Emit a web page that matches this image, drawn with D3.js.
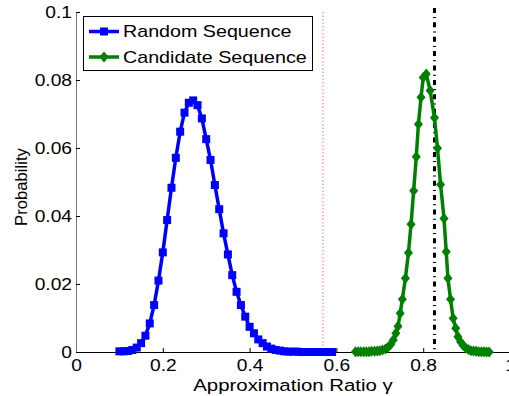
<!DOCTYPE html>
<html><head><meta charset="utf-8">
<script src="https://cdn.jsdelivr.net/npm/d3@7"></script>
<style>body{margin:0;background:#fff}svg{display:block}text{font-family:"Liberation Sans",Arial,sans-serif;fill:#000}</style>
</head><body><svg id="c" width="509" height="396"></svg>
<script>
const xTicks=[0,0.2,0.4,0.6,0.8,1];
const xTickLabels=["0","0.2","0.4","0.6","0.8","1"];
const yTicks=[0,0.02,0.04,0.06,0.08,0.1];
const yTickLabels=["0","0.02","0.04","0.06","0.08","0.1"];
const seriesNames=["Random Sequence","Candidate Sequence"];
const xLabel="Approximation Ratio γ";
const yLabel="Probability";

const randomX=[0.10,0.11,0.12,0.13,0.14,0.15,0.16,0.17,0.18,0.19,0.20,0.21,0.22,0.23,0.24,0.25,0.26,0.27,0.28,0.29,0.30,0.31,0.32,0.33,0.34,0.35,0.36,0.37,0.38,0.39,0.40,0.41,0.42,0.43,0.44,0.45,0.46,0.47,0.48,0.49,0.50,0.51,0.52,0.53,0.54,0.55,0.56,0.57,0.58,0.59];
const randomP=[0.0002,0.0002,0.0003,0.0006,0.0013,0.0026,0.0048,0.0084,0.0138,0.0210,0.0293,0.0388,0.0483,0.0571,0.0648,0.0704,0.0733,0.0740,0.0726,0.0687,0.0626,0.0565,0.0491,0.0420,0.0349,0.0287,0.0226,0.0177,0.0138,0.0104,0.0074,0.0055,0.0037,0.0026,0.0016,0.0010,0.0006,0.0004,0.0002,0.0001,0.0001,0.0001,0,0,0,0,0,0,0,0];

const candX=[0.644,0.650,0.656,0.663,0.669,0.675,0.681,0.688,0.694,0.700,0.706,0.713,0.719,0.725,0.731,0.737,0.742,0.747,0.752,0.759,0.766,0.772,0.778,0.784,0.789,0.795,0.800,0.807,0.816,0.826,0.833,0.840,0.848,0.853,0.857,0.863,0.869,0.875,0.880,0.886,0.892,0.898,0.904,0.910,0.916,0.922,0.928,0.934,0.940,0.946,0.952];
const candP=[0.0001,0.0001,0.0001,0.0001,0.0001,0.0001,0.0002,0.0002,0.0003,0.0004,0.0006,0.0009,0.0014,0.0022,0.0035,0.0055,0.0076,0.0114,0.0155,0.0217,0.0292,0.0376,0.0474,0.0574,0.0670,0.0749,0.0807,0.0818,0.0769,0.0689,0.0599,0.0493,0.0393,0.0295,0.0217,0.0155,0.0099,0.0070,0.0045,0.0030,0.0019,0.0012,0.0007,0.0004,0.0003,0.0002,0.0001,0.0001,0.0001,0,0];

const refLineX=[0.569,0.826];
const refLineTop=[0.1,0.1012];

const svg=d3.select("#c");
const x=d3.scaleLinear().domain([0,1]).range([76,510]);
const y=d3.scaleLinear().domain([0,0.1]).range([352,12]);
const SX=1.2;
function stretch(sel,k){sel.each(function(){const tx=+this.getAttribute("x")||0;this.setAttribute("transform",`translate(${tx},0) scale(${k},1) translate(${-tx},0)`);});}

// reference lines
svg.append("line").attr("x1",x(refLineX[0])).attr("x2",x(refLineX[0]))
  .attr("y1",y(refLineTop[0])).attr("y2",y(0))
  .attr("stroke","#ff7070").attr("stroke-width",1).attr("stroke-dasharray","1.5,2");
svg.append("line").attr("x1",x(refLineX[1])).attr("x2",x(refLineX[1]))
  .attr("y1",y(refLineTop[1])).attr("y2",y(0))
  .attr("stroke","#000").attr("stroke-width",3).attr("stroke-dasharray","5,4.2,1,4.2");

// axes
const xAxis=svg.append("g").attr("transform",`translate(0,${y(0)})`)
  .call(d3.axisBottom(x).tickValues(xTicks).tickFormat((d,i)=>xTickLabels[i]).tickSizeInner(-4).tickSizeOuter(0).tickPadding(6));
xAxis.select(".domain").attr("stroke","#000");
xAxis.selectAll(".tick line").attr("stroke","#000");
xAxis.selectAll("text").attr("font-size",16).attr("font-family","Liberation Sans, Arial, sans-serif").attr("dy","0.71em").attr("y",8);
stretch(xAxis.selectAll("text"),SX);

const yAxis=svg.append("g").attr("transform",`translate(${x(0)},0)`)
  .call(d3.axisLeft(y).tickValues(yTicks).tickFormat((d,i)=>yTickLabels[i]).tickSizeInner(-4).tickSizeOuter(0).tickPadding(4));
yAxis.select(".domain").attr("stroke","#777");
yAxis.selectAll(".tick line").attr("stroke","#000");
yAxis.selectAll("text").attr("font-size",16).attr("font-family","Liberation Sans, Arial, sans-serif");
stretch(yAxis.selectAll("text"),SX);

// series
const blue=randomX.map((v,i)=>[v,randomP[i]]);
const green=candX.map((v,i)=>[v,candP[i]]);
const line=d3.line().x(d=>x(d[0])).y(d=>y(d[1]));
svg.append("path").datum(blue).attr("d",line).attr("fill","none").attr("stroke","#0000ff").attr("stroke-width",3.5).attr("stroke-linejoin","round");
svg.append("g").selectAll("rect").data(blue).join("rect")
  .attr("x",d=>x(d[0])-4).attr("y",d=>y(d[1])-4).attr("width",8).attr("height",8).attr("fill","#0000ff");
svg.append("path").datum(green).attr("d",line).attr("fill","none").attr("stroke","#008000").attr("stroke-width",3.5).attr("stroke-linejoin","round");
const dia="M0,-5.5L4.5,0L0,5.5L-4.5,0Z";
svg.append("g").selectAll("path").data(green).join("path")
  .attr("d",dia).attr("transform",d=>`translate(${x(d[0])},${y(d[1])})`).attr("fill","#008000");

// axis titles
const xt=svg.append("text").attr("x",(x(0)+x(1))/2).attr("y",391).attr("text-anchor","middle").attr("font-size",17).text(xLabel);
stretch(xt,SX);
svg.append("text").attr("transform","translate(27,187) rotate(-90)").attr("text-anchor","middle").attr("font-size",16.7).text(yLabel);

// legend
const lg=svg.append("g");
lg.append("rect").attr("x",83.5).attr("y",16.5).attr("width",229).attr("height",54).attr("fill","#fff").attr("stroke","#000");
const colors=["#0000ff","#008000"];
const ly=[31.5,57];
seriesNames.forEach((n,i)=>{
  lg.append("line").attr("x1",89).attr("x2",119).attr("y1",ly[i]).attr("y2",ly[i]).attr("stroke",colors[i]).attr("stroke-width",3.5);
  if(i===0) lg.append("rect").attr("x",100).attr("y",ly[i]-4).attr("width",8).attr("height",8).attr("fill",colors[i]);
  else lg.append("path").attr("d",dia).attr("transform",`translate(104,${ly[i]})`).attr("fill",colors[i]);
  const t=lg.append("text").attr("x",123).attr("y",ly[i]+5.7).attr("font-size",16.4).text(n);
  stretch(t,SX);
});
</script></body></html>
